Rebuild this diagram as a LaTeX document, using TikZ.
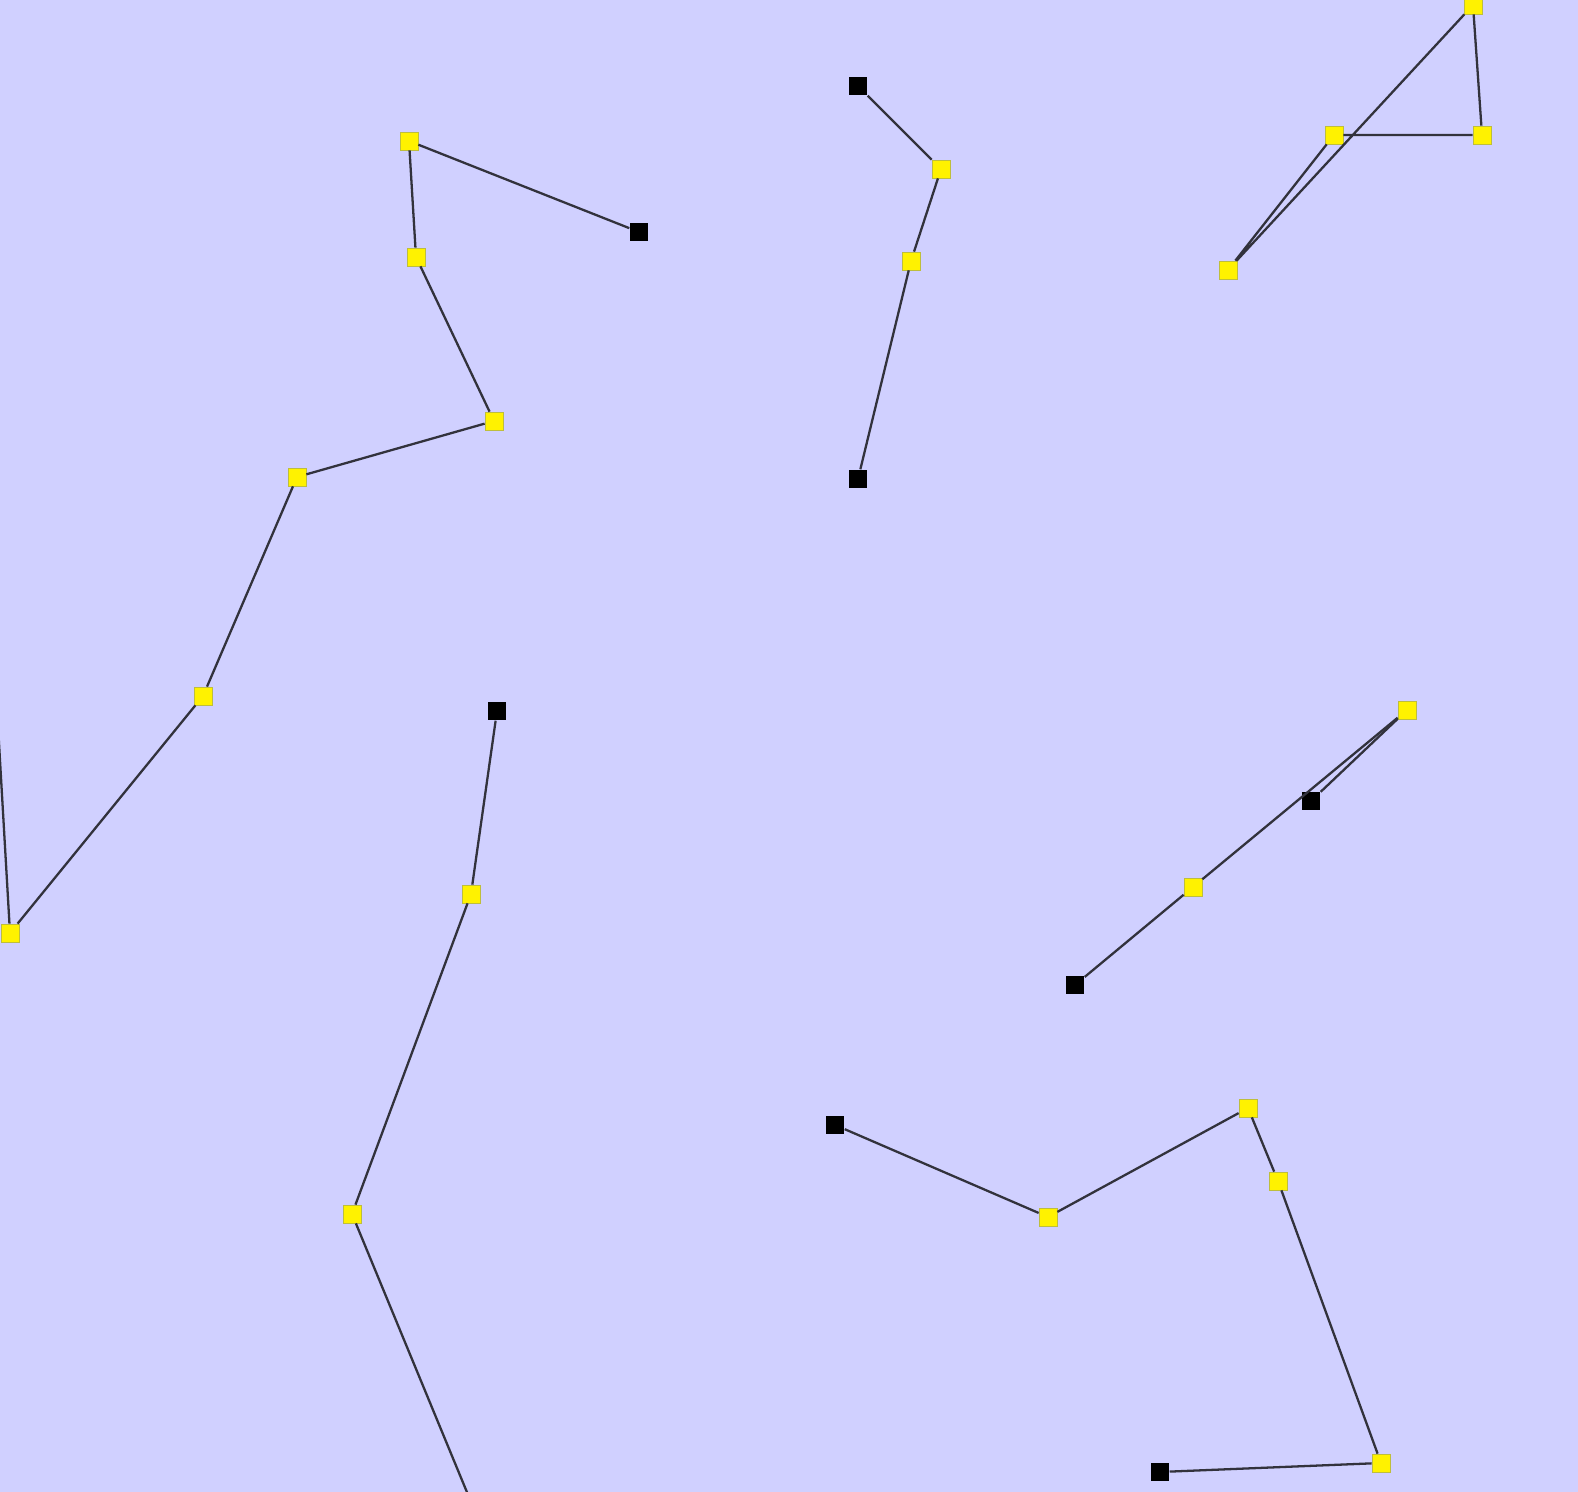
\documentclass[tikz,border=0pt]{standalone}
\usepackage{tikz}

\definecolor{bgblue}{RGB}{208,208,255}
\definecolor{edgegray}{RGB}{50,50,60}
\definecolor{rimyellow}{RGB}{190,190,60}

\tikzset{
  yel/.style={rectangle,inner sep=0pt,minimum size=0.18cm,fill=yellow,draw=rimyellow,line width=0.2pt},
  blk/.style={rectangle,inner sep=0pt,minimum size=0.18cm,fill=black},
  link/.style={draw=edgegray,line width=0.65pt}
}

\begin{document}
\begin{tikzpicture}[x=0.01cm,y=-0.01cm]
\useasboundingbox (0,0) rectangle (1578,1492);
\fill[bgblue] (0,0) rectangle (1578,1492);
\clip (0,0) rectangle (1578,1492);

% left chain
\coordinate (a1) at (-20,415);
\node[yel] (a2) at (10,933) {};
\node[yel] (a3) at (203,696) {};
\node[yel] (a4) at (297,477) {};
\node[yel] (a5) at (494,421) {};
\node[yel] (a6) at (416,257) {};
\node[yel] (a7) at (409,141) {};
\node[blk] (a8) at (639,232) {};

% top middle
\node[blk] (b1) at (858,86) {};
\node[yel] (b2) at (941,169) {};
\node[yel] (b3) at (911,261) {};
\node[blk] (b4) at (858,479) {};

% top right
\node[yel] (c1) at (1473,5) {};
\node[yel] (c2) at (1482,135) {};
\node[yel] (c3) at (1334,135) {};
\node[yel] (c4) at (1228,270) {};

% middle right
\node[yel] (d1) at (1407,710) {};
\node[blk] (d2) at (1311,801) {};
\node[yel] (d3) at (1193,887) {};
\node[blk] (d4) at (1075,985) {};

% bottom left
\node[blk] (e1) at (497,711) {};
\node[yel] (e2) at (471,894) {};
\node[yel] (e3) at (352,1214) {};
\coordinate (e4) at (495,1560);

% bottom right
\node[blk] (f1) at (835,1125) {};
\node[yel] (f2) at (1048,1217) {};
\node[yel] (f3) at (1248,1108) {};
\node[yel] (f4) at (1278,1181) {};
\node[yel] (f5) at (1381,1463) {};
\node[blk] (f6) at (1160,1472) {};

\draw[link] (a1) -- (a2) -- (a3) -- (a4) -- (a5) -- (a6) -- (a7) -- (a8);
\draw[link] (b1) -- (b2) -- (b3) -- (b4);
\draw[link] (c1) -- (c2) -- (c3) -- (c4) -- (c1);
\draw[link] (d4) -- (d3) -- (d1);
\draw[link] (d2) -- (d1);
\draw[link] (e1) -- (e2) -- (e3) -- (e4);
\draw[link] (f1) -- (f2) -- (f3) -- (f4) -- (f5) -- (f6);
\end{tikzpicture}
\end{document}
